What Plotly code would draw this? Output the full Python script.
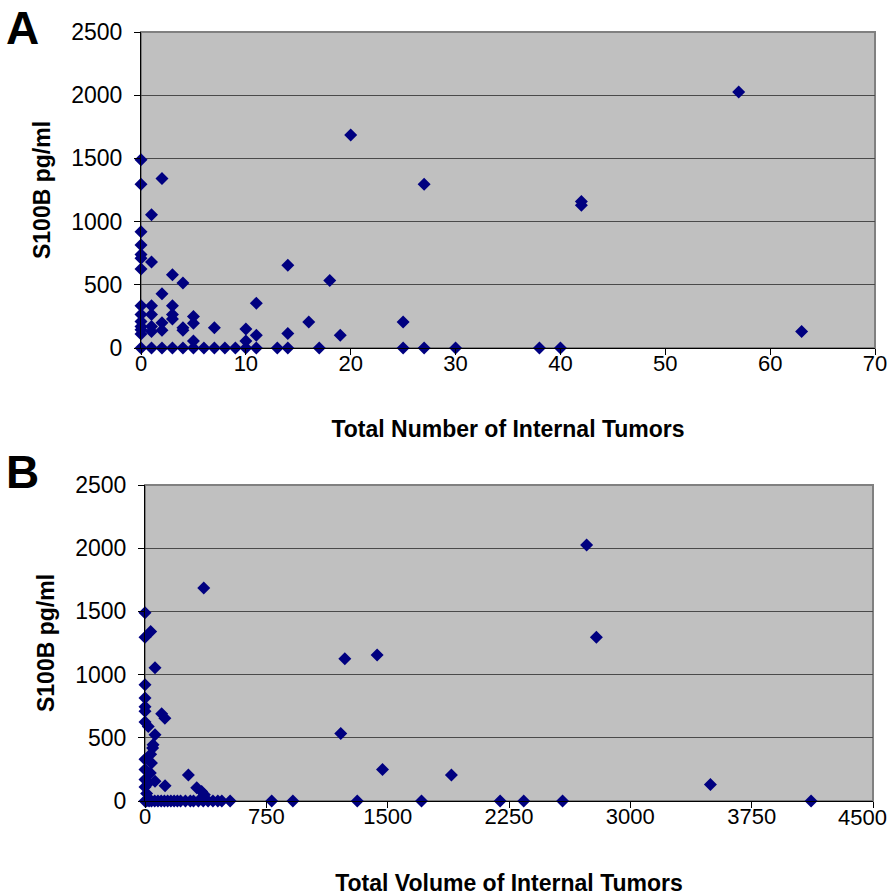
import plotly.graph_objects as go

# ---- Panel A: Total number of internal tumors vs S100B ----
tumor_count = [0, 0, 0, 0, 0, 0, 0, 0, 0, 0, 0, 0, 0, 0,
               1, 1, 1, 1, 1, 1, 1,
               2, 2, 2, 2, 2,
               3, 3, 3, 3, 3,
               4, 4, 4, 4,
               5, 5, 5, 5,
               6, 7, 7, 8, 9,
               10, 10, 10,
               11, 11, 11,
               13, 14, 14, 14,
               16, 17, 18, 19, 20,
               25, 25, 27, 27, 30, 38, 40,
               42, 42, 57, 63]
s100b_a = [1490, 1295, 920, 815, 740, 710, 625, 335, 265, 210, 170, 145, 110, 0,
           1055, 680, 335, 265, 170, 130, 0,
           1340, 430, 200, 140, 0,
           580, 335, 265, 230, 0,
           515, 160, 140, 0,
           250, 195, 55, 0,
           0, 160, 0, 0, 0,
           150, 55, 0,
           355, 100, 0,
           0, 655, 115, 0,
           205, 0, 535, 100, 1685,
           205, 0, 1295, 0, 0, 0, 0,
           1160, 1130, 2025, 130]

# ---- Panel B: Total volume of internal tumors vs S100B ----
tumor_volume = [2730, 363, 0, 35, 0, 2790, 1435, 1235, 62, 0,
                0, 0, 0, 103, 123, 0, 20, 62, 1210, 50,
                47, 35, 0, 40, 0, 1468, 33, 268, 1894, 0,
                62, 20, 3495, 124, 320, 0, 350, 367, 10,
                0, 10, 25, 40, 60, 80, 100, 120, 140, 160,
                180, 200, 220, 250, 280, 300, 330, 360, 390, 420,
                450, 475, 526, 783, 914, 1312, 1709, 2195, 2341, 2581, 4117]
s100b_b = [2025, 1685, 1490, 1340, 1295, 1295, 1155, 1125, 1055, 920,
           815, 745, 710, 690, 655, 625, 590, 525, 535, 445,
           420, 370, 330, 300, 250, 250, 222, 205, 205, 170,
           157, 140, 130, 120, 105, 110, 75, 50, 60,
           0, 0, 0, 0, 0, 0, 0, 0, 0, 0,
           0, 0, 0, 0, 0, 0, 0, 0, 0, 0,
           0, 0, 0, 0, 0, 0, 0, 0, 0, 0, 0]

a_xticks = [0, 10, 20, 30, 40, 50, 60, 70]
b_xticks = [0, 750, 1500, 2250, 3000, 3750, 4500]
b_xticklabels = ["0", "750", "1500", "2250", "3000", "3750", ""]
b_last_label = "4500"
y_ticks = [0, 500, 1000, 1500, 2000, 2500]

W, H = 890, 896
FONT = "Liberation Sans, Arial, sans-serif"
NAVY = "#000080"

marker = dict(symbol="diamond", size=10, color=NAVY, line=dict(width=0))

fig = go.Figure()
fig.add_trace(go.Scatter(x=tumor_count, y=s100b_a, mode="markers", marker=marker,
                         xaxis="x", yaxis="y", cliponaxis=False))
fig.add_trace(go.Scatter(x=tumor_volume, y=s100b_b, mode="markers", marker=marker,
                         xaxis="x2", yaxis="y2", cliponaxis=False))


def px_x(p):
    return p / W


def px_y(p):
    return 1 - p / H


xcommon = dict(showgrid=False, zeroline=False, showline=True, linecolor="black",
               linewidth=1, ticks="outside", ticklen=6, tickcolor="black",
               automargin=False, ticklabelstandoff=-10,
               tickfont=dict(family=FONT, size=22, color="black"),
               title_font=dict(family=FONT, size=23, color="black"))
ycommon = dict(range=[0, 2500], tickvals=y_ticks, showgrid=True, gridcolor="#4a4a4a",
               gridwidth=1, zeroline=False, showline=True, linecolor="black",
               linewidth=1, ticks="outside", ticklen=6, tickcolor="black",
               ticklabelstandoff=7, automargin=False,
               tickfont=dict(family=FONT, size=23, color="black"),
               title_font=dict(family=FONT, size=23, color="black"))

fig.update_layout(
    width=W, height=H,
    margin=dict(l=0, r=0, t=0, b=0, autoexpand=False),
    paper_bgcolor="white",
    plot_bgcolor="#C0C0C0",
    showlegend=False,
    xaxis=dict(domain=[px_x(141), px_x(875)], anchor="y", range=[0, 70],
               tickvals=a_xticks,
               title=dict(text="<b>Total Number of Internal Tumors</b>", standoff=45),
               **xcommon),
    yaxis=dict(domain=[px_y(348), px_y(32)], anchor="x",
               title=dict(text="<b>S100B pg/ml</b>", standoff=14),
               **ycommon),
    xaxis2=dict(domain=[px_x(145), px_x(873)], anchor="y2", range=[0, 4500],
                tickvals=b_xticks, ticktext=b_xticklabels,
                title=dict(text="<b>Total Volume of Internal Tumors</b>", standoff=46),
                **xcommon),
    yaxis2=dict(domain=[px_y(801), px_y(485)], anchor="x2",
                title=dict(text="<b>S100B pg/ml</b>", standoff=14),
                **ycommon),
    shapes=[
        dict(type="rect", xref="x domain", yref="y domain", x0=0, x1=1, y0=0, y1=1,
             line=dict(color="#808080", width=2), layer="below"),
        dict(type="rect", xref="x2 domain", yref="y2 domain", x0=0, x1=1, y0=0, y1=1,
             line=dict(color="#808080", width=2), layer="below"),
    ],
    annotations=[
        dict(text="<b>A</b>", x=px_x(4), y=px_y(0), xref="paper", yref="paper",
             xanchor="left", yanchor="top", showarrow=False,
             font=dict(family=FONT, size=46, color="black")),
        dict(text="<b>B</b>", x=px_x(4), y=px_y(444), xref="paper", yref="paper",
             xanchor="left", yanchor="top", showarrow=False,
             font=dict(family=FONT, size=46, color="black")),
        # last tick label of panel B, right-aligned so it stays inside the page
        dict(text=b_last_label, x=px_x(889), y=px_y(803), xref="paper", yref="paper",
             xanchor="right", yanchor="top", showarrow=False,
             font=dict(family=FONT, size=22, color="black")),
    ],
)

fig.write_html("out.html", config={"displayModeBar": False},
               post_script="document.body.style.margin='0';document.body.style.overflow='hidden';")
